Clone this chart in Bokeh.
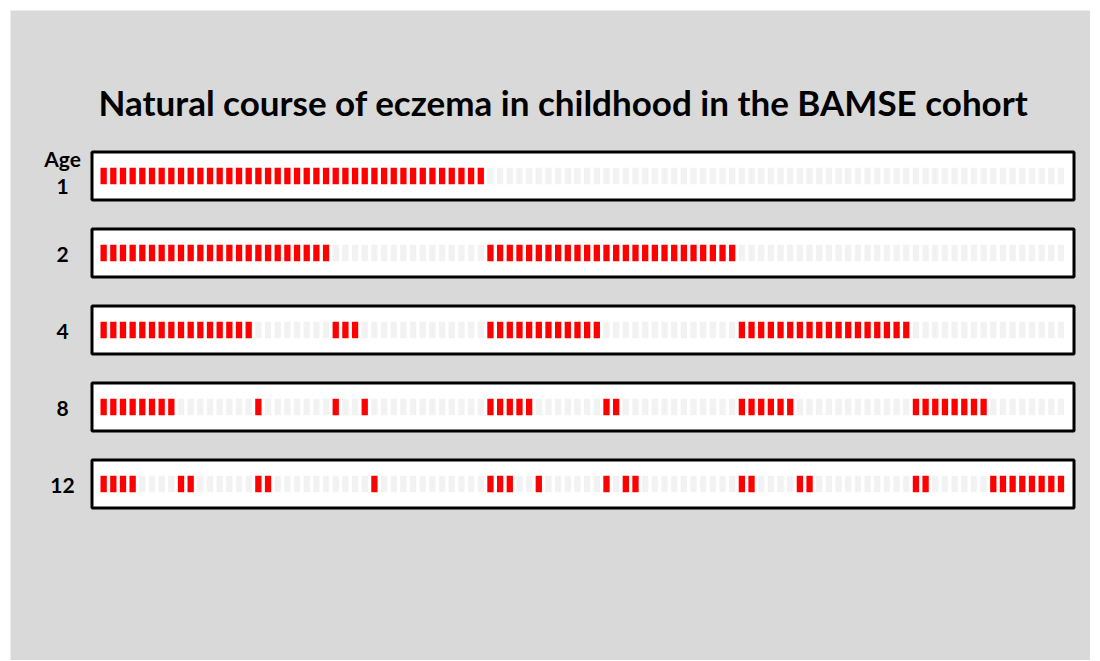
from bokeh.plotting import figure
from bokeh.models import Range1d, Label, ColumnDataSource
from bokeh.core.properties import value
from bokeh.embed import file_html
from bokeh.resources import INLINE

# ---------------- data ----------------
title = "Natural course of eczema in childhood in the BAMSE cohort"
age_header = "Age"
ages = ["1", "2", "4", "8", "12"]
n_children = 100  # one small bar per child
# runs of children with eczema at each age (first index, last index, inclusive)
eczema_age1 = [(0, 39)]
eczema_age2 = [(0, 23), (40, 65)]
eczema_age4 = [(0, 15), (24, 26), (40, 51), (66, 83)]
eczema_age8 = [(0, 7), (16, 16), (24, 24), (27, 27), (40, 44), (52, 53),
               (66, 71), (84, 91)]
eczema_age12 = [(0, 3), (8, 9), (16, 17), (28, 28), (40, 42), (45, 45),
                (52, 52), (54, 55), (66, 67), (72, 73), (84, 85), (92, 99)]
eczema_runs = [eczema_age1, eczema_age2, eczema_age4, eczema_age8, eczema_age12]

# ---------------- styling / layout ----------------
OFF = 10            # page offset of the grey panel
W, H = 1080, 650
PITCH = 9.67        # px between bar centres
X0 = 103.15 - OFF   # canvas px of first bar centre
ROW_PITCH = 77.0    # px between rows
Y0 = 175.5 - OFF    # canvas px of first row centre
BG = "#d9d9d9"
RED = "#ff0000"
GREY = "#f2f2f2"
FONT = "Lato"

p = figure(width=W, height=H, output_backend="svg", toolbar_location=None,
           x_axis_type=None, y_axis_type=None, min_border=0,
           x_range=Range1d(-X0 / PITCH, (W - X0) / PITCH),
           y_range=Range1d((H - Y0) / ROW_PITCH, -Y0 / ROW_PITCH))
p.margin = (OFF, 0, 0, OFF)
p.background_fill_color = BG
p.border_fill_color = BG
p.outline_line_color = None
p.grid.visible = False

# row boxes
box_cx = ((90 + 1075) / 2 - OFF - X0) / PITCH
p.rect(x=[box_cx] * len(ages), y=list(range(len(ages))),
       width=982 / PITCH, height=48 / ROW_PITCH,
       fill_color="white", line_color="black", line_width=3)

# bars
xs, ys, cols = [], [], []
for r, runs in enumerate(eczema_runs):
    red = set()
    for a, b in runs:
        red.update(range(a, b + 1))
    for i in range(n_children):
        xs.append(i)
        ys.append(r)
        cols.append(RED if i in red else GREY)
src = ColumnDataSource(dict(x=xs, y=ys, c=cols))
p.rect(x="x", y="y", width=6.3 / PITCH, height=16.5 / ROW_PITCH,
       fill_color="c", line_color=None, source=src)

# age labels
lab_x = (62 - OFF - X0) / PITCH
lab_y = [r + (0.136 if r == 0 else 0.02) for r in range(len(ages))]
p.text(x=[lab_x] * len(ages), y=lab_y, text=ages,
       text_font=value(FONT), text_font_style="bold", text_font_size="21px",
       text_align="center", text_baseline="middle", text_color="black")
p.text(x=[lab_x], y=[-0.227], text=[age_header],
       text_font=value(FONT), text_font_style="bold", text_font_size="21px",
       text_align="center", text_baseline="middle", text_color="black")

p.add_layout(Label(x=563 - OFF, y=H - (101 - OFF), x_units="screen", y_units="screen",
                   text=title, text_font=FONT, text_font_style="bold",
                   text_font_size="35px", text_align="center",
                   text_baseline="middle", text_color="black"))

open("out.html", "w").write(file_html(p, INLINE))
